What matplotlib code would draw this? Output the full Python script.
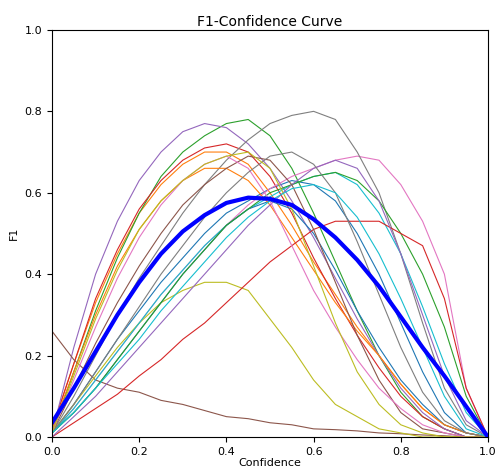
import numpy as np
import matplotlib
matplotlib.use("Agg")
import matplotlib.pyplot as plt

# confidence grid shared by all class curves
conf = [0.00, 0.05, 0.10, 0.15, 0.20, 0.25, 0.30, 0.35, 0.40, 0.45, 0.50,
        0.55, 0.60, 0.65, 0.70, 0.75, 0.80, 0.85, 0.90, 0.95, 1.00]

# per-class F1 values
f1_c0 = [0.01, 0.08, 0.16, 0.24, 0.31, 0.38, 0.44, 0.50, 0.55, 0.58, 0.61, 0.63, 0.62, 0.58, 0.50, 0.40, 0.28, 0.16, 0.06, 0.01, 0.0]
f1_c1 = [0.02, 0.18, 0.33, 0.45, 0.55, 0.62, 0.67, 0.70, 0.70, 0.67, 0.60, 0.52, 0.43, 0.35, 0.27, 0.20, 0.13, 0.07, 0.03, 0.01, 0.0]
f1_c2 = [0.01, 0.16, 0.31, 0.44, 0.55, 0.64, 0.70, 0.74, 0.77, 0.78, 0.74, 0.66, 0.55, 0.43, 0.31, 0.20, 0.11, 0.05, 0.02, 0.0, 0.0]
f1_c3 = [0.02, 0.18, 0.34, 0.46, 0.56, 0.63, 0.68, 0.71, 0.72, 0.70, 0.64, 0.55, 0.44, 0.34, 0.25, 0.17, 0.10, 0.05, 0.02, 0.0, 0.0]
f1_c4 = [0.01, 0.22, 0.40, 0.53, 0.63, 0.70, 0.75, 0.77, 0.76, 0.72, 0.66, 0.58, 0.49, 0.39, 0.29, 0.20, 0.12, 0.06, 0.02, 0.0, 0.0]
f1_c5 = [0.26, 0.19, 0.14, 0.12, 0.11, 0.09, 0.08, 0.065, 0.05, 0.045, 0.035, 0.03, 0.02, 0.018, 0.015, 0.01, 0.008, 0.005, 0.003, 0.0, 0.0]
f1_c6 = [0.01, 0.07, 0.14, 0.21, 0.28, 0.35, 0.41, 0.47, 0.52, 0.57, 0.61, 0.64, 0.66, 0.68, 0.69, 0.68, 0.62, 0.53, 0.40, 0.12, 0.0]
f1_c7 = [0.01, 0.10, 0.20, 0.30, 0.39, 0.47, 0.55, 0.62, 0.68, 0.73, 0.77, 0.79, 0.80, 0.78, 0.70, 0.60, 0.45, 0.28, 0.12, 0.03, 0.0]
f1_c8 = [0.01, 0.08, 0.15, 0.22, 0.28, 0.33, 0.36, 0.38, 0.38, 0.36, 0.29, 0.22, 0.14, 0.08, 0.05, 0.02, 0.01, 0.0, 0.0, 0.0, 0.0]
f1_c9 = [0.01, 0.07, 0.14, 0.21, 0.28, 0.35, 0.41, 0.47, 0.52, 0.56, 0.59, 0.62, 0.64, 0.65, 0.62, 0.55, 0.45, 0.32, 0.18, 0.06, 0.0]
f1_c10 = [0.01, 0.06, 0.12, 0.19, 0.26, 0.33, 0.40, 0.46, 0.52, 0.56, 0.58, 0.56, 0.50, 0.41, 0.31, 0.22, 0.14, 0.08, 0.03, 0.01, 0.0]
f1_c11 = [0.02, 0.16, 0.30, 0.42, 0.51, 0.58, 0.63, 0.66, 0.66, 0.63, 0.57, 0.49, 0.41, 0.33, 0.26, 0.20, 0.13, 0.07, 0.03, 0.01, 0.0]
f1_c12 = [0.01, 0.06, 0.12, 0.19, 0.26, 0.33, 0.40, 0.46, 0.52, 0.56, 0.60, 0.62, 0.64, 0.65, 0.63, 0.58, 0.50, 0.40, 0.27, 0.10, 0.0]
f1_c13 = [0.0, 0.035, 0.07, 0.105, 0.15, 0.19, 0.24, 0.28, 0.33, 0.38, 0.43, 0.47, 0.51, 0.53, 0.53, 0.53, 0.50, 0.47, 0.34, 0.12, 0.0]
f1_c14 = [0.0, 0.05, 0.10, 0.16, 0.22, 0.28, 0.34, 0.40, 0.46, 0.52, 0.57, 0.62, 0.66, 0.68, 0.66, 0.58, 0.45, 0.30, 0.15, 0.04, 0.0]
f1_c15 = [0.01, 0.12, 0.23, 0.33, 0.42, 0.50, 0.57, 0.62, 0.66, 0.69, 0.68, 0.62, 0.51, 0.38, 0.25, 0.14, 0.06, 0.02, 0.01, 0.0, 0.0]
f1_c16 = [0.01, 0.14, 0.27, 0.39, 0.49, 0.57, 0.63, 0.67, 0.69, 0.66, 0.58, 0.47, 0.36, 0.27, 0.19, 0.12, 0.07, 0.03, 0.01, 0.0, 0.0]
f1_c17 = [0.01, 0.08, 0.16, 0.24, 0.32, 0.40, 0.47, 0.54, 0.60, 0.65, 0.69, 0.70, 0.67, 0.60, 0.48, 0.35, 0.22, 0.11, 0.04, 0.01, 0.0]
f1_c18 = [0.01, 0.15, 0.29, 0.41, 0.51, 0.58, 0.63, 0.67, 0.69, 0.70, 0.66, 0.56, 0.42, 0.28, 0.16, 0.08, 0.03, 0.01, 0.0, 0.0, 0.0]
f1_c19 = [0.01, 0.06, 0.12, 0.18, 0.24, 0.31, 0.37, 0.43, 0.49, 0.54, 0.58, 0.61, 0.62, 0.60, 0.54, 0.45, 0.34, 0.22, 0.10, 0.02, 0.0]

# mean over all classes (bold curve)
f1_all = [0.035, 0.12, 0.21, 0.30, 0.38, 0.45, 0.505, 0.545, 0.575, 0.588, 0.585,
          0.57, 0.535, 0.49, 0.435, 0.37, 0.295, 0.22, 0.15, 0.075, 0.0]

class_curves = [f1_c0, f1_c1, f1_c2, f1_c3, f1_c4, f1_c5, f1_c6, f1_c7, f1_c8, f1_c9,
                f1_c10, f1_c11, f1_c12, f1_c13, f1_c14, f1_c15, f1_c16, f1_c17, f1_c18, f1_c19]

fig = plt.figure(figsize=(5, 4.75), dpi=100)
ax = fig.add_axes([0.104, 0.08, 0.872, 0.857])

for f1 in class_curves:
    ax.plot(conf, f1, linewidth=0.8)

ax.plot(conf, f1_all, color='blue', linewidth=3)

ax.set_xlim(0, 1)
ax.set_ylim(0, 1)
ax.set_xticks([0.0, 0.2, 0.4, 0.6, 0.8, 1.0])
ax.set_yticks([0.0, 0.2, 0.4, 0.6, 0.8, 1.0])
ax.tick_params(labelsize=8)
ax.set_xlabel('Confidence', fontsize=8, labelpad=1)
ax.set_ylabel('F1', fontsize=8)
ax.set_title('F1-Confidence Curve', fontsize=10, pad=3)

plt.savefig('out.png', dpi=100)
